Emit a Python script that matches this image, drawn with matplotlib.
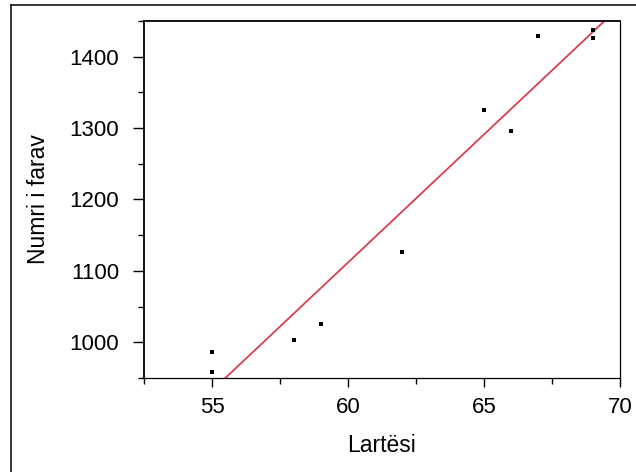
import numpy as np
import matplotlib
matplotlib.use("Agg")
import matplotlib.pyplot as plt
from matplotlib.lines import Line2D
from matplotlib.ticker import MultipleLocator

plt.rcParams['font.family'] = ['Liberation Sans', 'DejaVu Sans']

# lartesia dhe numri i farave
lartesi = [55, 55, 58, 59, 62, 65, 66, 67, 69, 69]
numri_farave = [987, 959, 1003, 1025, 1126, 1326, 1296, 1429, 1437, 1426]

fig = plt.figure(figsize=(6.36, 4.72), dpi=100)
ax = fig.add_axes([0.2264, 0.1992, 0.7484, 0.7563])

ax.scatter(lartesi, numri_farave, marker='s', s=8, color='black', zorder=3, linewidths=0)

# vija e regresionit
k, b = np.polyfit(lartesi, numri_farave, 1)
xs = np.array([52.5, 70])
ax.plot(xs, k * xs + b, color='#d6404e', lw=1.3)

ax.set_xlim(52.5, 70)
ax.set_ylim(950, 1450)
ax.xaxis.set_major_locator(MultipleLocator(5))
ax.xaxis.set_minor_locator(MultipleLocator(2.5))
ax.yaxis.set_major_locator(MultipleLocator(100))
ax.yaxis.set_minor_locator(MultipleLocator(50))

ax.tick_params(axis='y', which='major', direction='out', length=8, width=1, labelsize=16, pad=10)
ax.tick_params(axis='y', which='minor', direction='out', length=4, width=1)
ax.tick_params(axis='x', which='major', direction='out', length=6.5, width=1, labelsize=16, pad=7)
ax.tick_params(axis='x', which='minor', direction='out', length=4, width=1)

for side in ['left', 'top']:
    ax.spines[side].set_linewidth(1.3)
for side in ['right', 'bottom']:
    ax.spines[side].set_linewidth(0.9)

ax.set_xlabel('Lartësi', fontsize=16.5, labelpad=12)
ax.set_ylabel('Numri i farav', fontsize=16.5, labelpad=14)

# korniza e figures (vetem majtas dhe lart)
fig.add_artist(Line2D([11/636, 11/636], [0, 1 - 5/472], color='black', lw=1.1, transform=fig.transFigure))
fig.add_artist(Line2D([11/636, 1], [1 - 5/472, 1 - 5/472], color='black', lw=1.1, transform=fig.transFigure))

fig.savefig('out.png', dpi=100)
